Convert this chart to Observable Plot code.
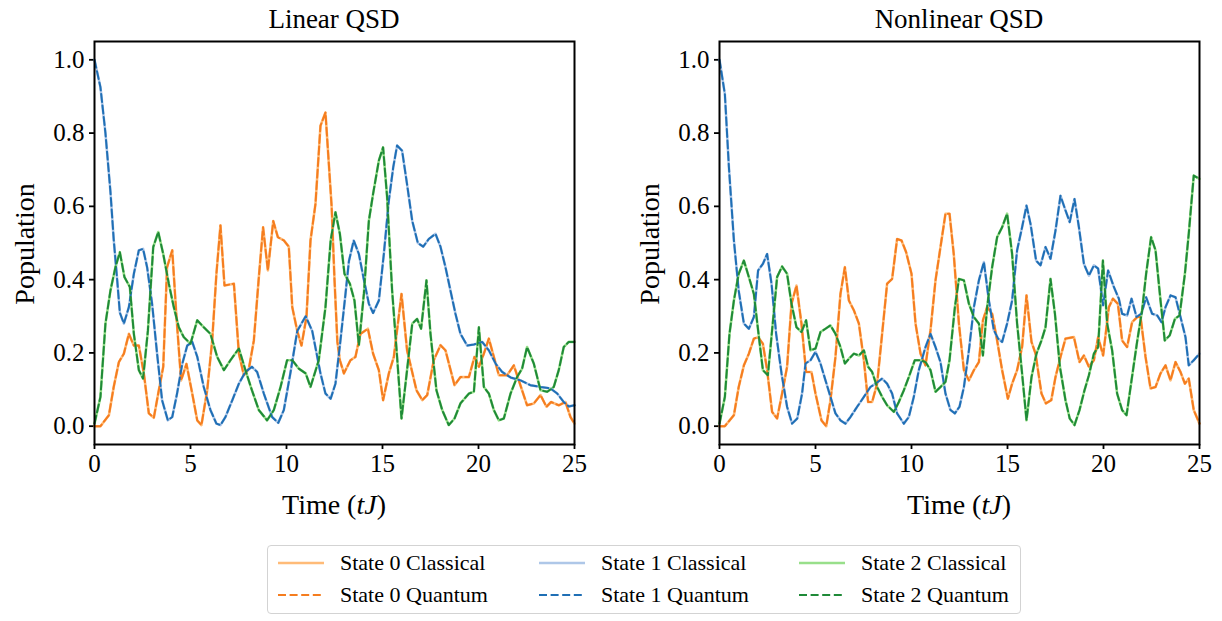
<!DOCTYPE html>
<html><head><meta charset="utf-8">
<script src="https://cdn.jsdelivr.net/npm/d3@7"></script>
<script src="https://cdn.jsdelivr.net/npm/@observablehq/plot@0.6"></script>
<style>
body{margin:0;background:#fff;}
#wrap{position:relative;width:1222px;height:621px;font-family:"Liberation Serif",serif;color:#000;overflow:hidden;}
.abs{position:absolute;white-space:nowrap;}
.title{font-size:27px;line-height:30px;text-align:center;width:480px;}
.ylab{font-size:28px;line-height:30px;transform:translate(-50%,-50%) rotate(-90deg);}
.xlab{font-size:28px;line-height:30px;transform:translate(-50%,-50%);}
#legend{position:absolute;left:267px;top:545px;width:754px;height:69px;border:1px solid #d3d3d3;border-radius:4px;box-sizing:border-box;}
.lg{position:absolute;font-size:22px;line-height:26px;white-space:nowrap;}
svg text{font-family:"Liberation Serif",serif !important;}
</style>
</head><body>
<div id="wrap">
  <div id="p0" class="abs" style="left:0;top:0"></div>
  <div id="p1" class="abs" style="left:625px;top:0"></div>
  <div class="abs title" style="left:94px;top:4px">Linear QSD</div>
  <div class="abs title" style="left:719px;top:4px">Nonlinear QSD</div>
  <div class="abs ylab" style="left:25px;top:244px">Population</div>
  <div class="abs ylab" style="left:650px;top:244px">Population</div>
  <div class="abs xlab" style="left:334px;top:505px">Time (<i>tJ</i>)</div>
  <div class="abs xlab" style="left:959px;top:505px">Time (<i>tJ</i>)</div>
  <div id="legend"></div>
</div>
<script>
// ---- data: [time, population] ----
const xTicks = [0, 5, 10, 15, 20, 25];
const yTicks = [0, 0.2, 0.4, 0.6, 0.8, 1.0];
const stateNames = ["State 0", "State 1", "State 2"];
const panelTitles = ["Linear QSD", "Nonlinear QSD"];

const linS0 = [[0,0],[0.31,0],[0.75,0.03],[1.0,0.107],[1.27,0.175],[1.53,0.198],[1.79,0.252],[2.05,0.22],[2.31,0.22],[2.57,0.144],[2.83,0.035],[3.09,0.023],[3.35,0.098],[3.58,0.162],[3.78,0.434],[4.05,0.48],[4.27,0.298],[4.51,0.125],[4.79,0.17],[5.09,0.089],[5.35,0.016],[5.57,0.003],[5.87,0.098],[6.13,0.234],[6.35,0.416],[6.56,0.548],[6.77,0.384],[7.26,0.389],[7.52,0.198],[7.78,0.139],[8.04,0.157],[8.3,0.234],[8.56,0.407],[8.78,0.543],[9.03,0.425],[9.31,0.56],[9.55,0.516],[9.86,0.507],[10.12,0.49],[10.3,0.325],[10.56,0.26],[10.78,0.22],[11.04,0.298],[11.25,0.507],[11.51,0.607],[11.77,0.82],[12.03,0.856],[12.2,0.72],[12.35,0.6],[12.5,0.4],[12.65,0.23],[12.78,0.18],[12.99,0.144],[13.33,0.18],[13.59,0.189],[13.85,0.252],[14.24,0.266],[14.51,0.198],[14.81,0.153],[15.03,0.071],[15.33,0.144],[15.59,0.189],[15.99,0.361],[16.28,0.207],[16.77,0.098],[17.07,0.071],[17.33,0.085],[17.67,0.18],[18.02,0.221],[18.28,0.207],[18.75,0.112],[19.06,0.134],[19.5,0.134],[19.79,0.189],[20.02,0.162],[20.28,0.198],[20.54,0.239],[20.8,0.189],[21.06,0.139],[21.49,0.139],[21.84,0.166],[22.27,0.098],[22.53,0.057],[22.88,0.062],[23.23,0.085],[23.54,0.053],[23.78,0.066],[24.18,0.057],[24.53,0.066],[24.79,0.025],[25,0.007]];
const linS1 = [[0,1.0],[0.31,0.925],[0.57,0.80],[0.83,0.64],[1.0,0.51],[1.18,0.40],[1.32,0.31],[1.53,0.28],[1.79,0.325],[2.05,0.416],[2.31,0.48],[2.53,0.484],[2.74,0.434],[3.0,0.334],[3.26,0.198],[3.52,0.071],[3.82,0.016],[4.05,0.025],[4.3,0.089],[4.57,0.17],[4.83,0.22],[5.09,0.23],[5.35,0.19],[5.69,0.107],[6.04,0.044],[6.35,0.007],[6.56,0.003],[6.82,0.025],[7.17,0.07],[7.52,0.116],[7.86,0.148],[8.2,0.162],[8.47,0.148],[8.82,0.089],[9.25,0.025],[9.57,0.009],[9.86,0.044],[10.2,0.144],[10.56,0.26],[11.0,0.30],[11.34,0.26],[11.77,0.144],[12.03,0.089],[12.3,0.075],[12.55,0.116],[12.81,0.234],[13.07,0.36],[13.25,0.45],[13.5,0.507],[13.77,0.47],[14.03,0.40],[14.29,0.334],[14.51,0.309],[14.81,0.343],[15.07,0.47],[15.33,0.616],[15.56,0.707],[15.76,0.766],[16.02,0.752],[16.28,0.66],[16.55,0.56],[16.84,0.50],[17.12,0.49],[17.41,0.511],[17.76,0.525],[18.02,0.49],[18.28,0.434],[18.54,0.37],[18.8,0.307],[19.06,0.252],[19.41,0.22],[19.76,0.223],[20.19,0.23],[20.54,0.207],[20.9,0.17],[21.23,0.148],[21.67,0.133],[22.19,0.125],[22.7,0.112],[23.23,0.107],[23.75,0.103],[24.1,0.089],[24.44,0.066],[24.7,0.054],[25,0.057]];
const linS2 = [[0,0.007],[0.31,0.08],[0.57,0.28],[0.83,0.37],[1.09,0.434],[1.32,0.475],[1.56,0.407],[1.84,0.38],[2.05,0.252],[2.31,0.153],[2.53,0.13],[2.78,0.26],[3.06,0.489],[3.32,0.53],[3.58,0.47],[3.87,0.389],[4.13,0.325],[4.39,0.27],[4.65,0.243],[5.0,0.225],[5.35,0.289],[5.69,0.27],[6.04,0.252],[6.39,0.189],[6.74,0.153],[7.08,0.18],[7.52,0.212],[7.86,0.153],[8.2,0.098],[8.56,0.044],[8.99,0.016],[9.34,0.044],[9.69,0.107],[10.03,0.18],[10.3,0.18],[10.64,0.157],[11.0,0.144],[11.25,0.107],[11.68,0.18],[12.03,0.325],[12.3,0.507],[12.55,0.584],[12.78,0.525],[13.02,0.416],[13.3,0.389],[13.54,0.343],[13.77,0.221],[14.03,0.361],[14.29,0.561],[14.51,0.634],[14.81,0.725],[15.03,0.761],[15.24,0.625],[15.5,0.371],[15.76,0.189],[15.99,0.021],[16.26,0.144],[16.55,0.28],[16.8,0.293],[17.01,0.266],[17.29,0.398],[17.5,0.252],[17.81,0.098],[18.11,0.044],[18.45,0.003],[18.75,0.021],[19.06,0.062],[19.5,0.089],[19.76,0.094],[20.02,0.27],[20.28,0.107],[20.54,0.089],[20.8,0.044],[21.06,0.016],[21.32,0.021],[21.67,0.089],[22.01,0.134],[22.27,0.157],[22.53,0.216],[22.88,0.171],[23.23,0.098],[23.58,0.094],[23.92,0.107],[24.18,0.153],[24.44,0.216],[24.7,0.23],[25,0.23]];

const nonS0 = [[0,0],[0.28,0],[0.75,0.03],[1.0,0.107],[1.27,0.166],[1.53,0.198],[1.79,0.239],[2.01,0.243],[2.26,0.225],[2.48,0.153],[2.74,0.039],[3.0,0.021],[3.26,0.089],[3.52,0.162],[3.75,0.334],[4.01,0.384],[4.27,0.28],[4.51,0.148],[4.79,0.148],[5.0,0.089],[5.31,0.016],[5.56,0.0],[5.78,0.071],[6.04,0.189],[6.3,0.361],[6.53,0.434],[6.74,0.343],[7.0,0.316],[7.26,0.28],[7.52,0.18],[7.74,0.066],[7.95,0.066],[8.21,0.116],[8.47,0.252],[8.73,0.389],[8.99,0.402],[9.25,0.511],[9.48,0.507],[9.72,0.475],[10.0,0.416],[10.21,0.28],[10.47,0.198],[10.73,0.166],[10.99,0.262],[11.25,0.398],[11.51,0.489],[11.77,0.58],[11.98,0.58],[12.2,0.47],[12.47,0.28],[12.73,0.153],[12.99,0.125],[13.25,0.153],[13.51,0.175],[13.72,0.289],[13.94,0.325],[14.2,0.307],[14.46,0.234],[14.72,0.153],[15.02,0.075],[15.24,0.116],[15.5,0.153],[15.76,0.216],[15.99,0.357],[16.25,0.23],[16.46,0.198],[16.77,0.089],[17.0,0.062],[17.28,0.071],[17.5,0.134],[17.76,0.189],[18.02,0.239],[18.46,0.243],[18.75,0.175],[18.98,0.193],[19.24,0.162],[19.5,0.18],[19.72,0.243],[19.98,0.193],[20.28,0.325],[20.49,0.348],[20.75,0.334],[20.97,0.234],[21.23,0.216],[21.49,0.284],[21.76,0.298],[21.93,0.298],[22.19,0.189],[22.45,0.103],[22.71,0.107],[22.97,0.144],[23.23,0.166],[23.49,0.125],[23.75,0.175],[24.01,0.148],[24.24,0.116],[24.44,0.13],[24.7,0.044],[25,0.007]];
const nonS1 = [[0,1.0],[0.28,0.906],[0.49,0.707],[0.75,0.507],[1.0,0.37],[1.27,0.28],[1.53,0.266],[1.79,0.298],[2.01,0.425],[2.26,0.443],[2.48,0.47],[2.71,0.389],[2.95,0.252],[3.23,0.144],[3.52,0.053],[3.78,0.007],[4.05,0.021],[4.3,0.089],[4.48,0.171],[4.74,0.18],[5.0,0.203],[5.26,0.171],[5.52,0.125],[5.78,0.08],[6.04,0.035],[6.3,0.016],[6.56,0.007],[6.82,0.025],[7.17,0.053],[7.52,0.08],[7.86,0.107],[8.13,0.116],[8.47,0.13],[8.73,0.116],[8.99,0.089],[9.25,0.035],[9.6,0.007],[9.86,0.025],[10.12,0.08],[10.38,0.153],[10.73,0.216],[10.99,0.252],[11.25,0.216],[11.51,0.175],[11.77,0.089],[12.03,0.044],[12.26,0.035],[12.5,0.053],[12.73,0.107],[12.99,0.207],[13.25,0.325],[13.51,0.398],[13.77,0.448],[14.03,0.343],[14.29,0.262],[14.51,0.239],[14.72,0.23],[14.98,0.28],[15.24,0.343],[15.5,0.48],[15.76,0.543],[15.99,0.602],[16.2,0.552],[16.49,0.452],[16.72,0.439],[16.98,0.489],[17.24,0.457],[17.5,0.534],[17.76,0.629],[18.02,0.589],[18.24,0.557],[18.49,0.62],[18.72,0.543],[18.98,0.443],[19.24,0.411],[19.5,0.439],[19.72,0.43],[19.98,0.33],[20.24,0.425],[20.54,0.38],[20.8,0.348],[20.97,0.307],[21.23,0.302],[21.46,0.348],[21.72,0.298],[21.98,0.307],[22.22,0.352],[22.53,0.307],[22.8,0.302],[23.02,0.284],[23.23,0.325],[23.49,0.357],[23.75,0.352],[24.01,0.298],[24.27,0.243],[24.44,0.166],[24.7,0.18],[25,0.198]];
const nonS2 = [[0,0.007],[0.28,0.08],[0.52,0.252],[0.75,0.343],[1.0,0.416],[1.27,0.452],[1.53,0.407],[1.79,0.361],[2.01,0.262],[2.26,0.153],[2.52,0.139],[2.74,0.262],[3.0,0.407],[3.26,0.436],[3.52,0.416],[3.75,0.334],[4.01,0.27],[4.27,0.257],[4.51,0.289],[4.74,0.207],[5.0,0.212],[5.26,0.257],[5.52,0.266],[5.78,0.275],[6.04,0.252],[6.3,0.216],[6.53,0.171],[6.74,0.184],[7.0,0.198],[7.26,0.193],[7.52,0.207],[7.74,0.162],[7.95,0.148],[8.21,0.107],[8.47,0.08],[8.73,0.057],[9.08,0.039],[9.34,0.066],[9.6,0.098],[9.86,0.134],[10.17,0.18],[10.47,0.18],[10.73,0.175],[10.99,0.153],[11.25,0.094],[11.51,0.107],[11.77,0.121],[11.98,0.18],[12.26,0.325],[12.47,0.402],[12.73,0.398],[12.99,0.334],[13.25,0.298],[13.51,0.28],[13.72,0.193],[13.94,0.325],[14.2,0.434],[14.46,0.516],[14.72,0.543],[14.98,0.58],[15.24,0.47],[15.5,0.28],[15.76,0.144],[15.99,0.016],[16.25,0.134],[16.51,0.198],[16.77,0.234],[16.98,0.27],[17.24,0.402],[17.47,0.307],[17.73,0.162],[18.02,0.071],[18.24,0.021],[18.49,0.003],[18.75,0.044],[19.01,0.098],[19.24,0.139],[19.5,0.198],[19.72,0.216],[19.97,0.452],[20.19,0.28],[20.45,0.207],[20.71,0.089],[20.97,0.044],[21.2,0.03],[21.46,0.125],[21.76,0.234],[22.01,0.316],[22.22,0.416],[22.48,0.516],[22.71,0.48],[22.97,0.343],[23.19,0.234],[23.45,0.248],[23.72,0.293],[23.96,0.302],[24.24,0.416],[24.44,0.525],[24.7,0.684],[25,0.675]];

// ---- styles ----
const classicalColors = ["#ffbb78", "#aec7e8", "#98df8a"];
const quantumColors = ["#f57d1f", "#1f6fb5", "#1f8a38"];
const dash = "8,3.6";
const serif = "'Liberation Serif', serif";

function panel(series) {
  const marks = [];
  series.forEach((s, i) => {
    const data = s.map(([t, v]) => ({t, v}));
    marks.push(Plot.line(data, {x: "t", y: "v", stroke: classicalColors[i], strokeWidth: 2.6}));
  });
  series.forEach((s, i) => {
    const data = s.map(([t, v]) => ({t, v}));
    marks.push(Plot.line(data, {x: "t", y: "v", stroke: quantumColors[i], strokeWidth: 2, strokeDasharray: dash}));
  });
  return Plot.plot({
    width: 594, height: 490,
    marginLeft: 94, marginRight: 20, marginTop: 41, marginBottom: 46,
    style: {fontFamily: serif, fontSize: "25px", background: "transparent", color: "#000"},
    x: {domain: [0, 25]},
    y: {domain: [-0.05, 1.05]},
    marks: [
      Plot.axisX({ticks: xTicks, tickSize: 5, tickPadding: 5, fontSize: 25, fontFamily: serif, label: null, strokeWidth: 1.8}),
      Plot.axisY({ticks: yTicks, tickSize: 5, tickPadding: 5, fontSize: 25, fontFamily: serif, label: null, strokeWidth: 1.8, tickFormat: d => d.toFixed(1)}),
      ...marks,
      Plot.frame({stroke: "#000", strokeWidth: 2})
    ]
  });
}

document.getElementById("p0").appendChild(panel([linS0, linS1, linS2]));
document.getElementById("p1").appendChild(panel([nonS0, nonS1, nonS2]));

// ---- legend ----
const legend = document.getElementById("legend");
const cols = [{line: 10, text: 72}, {line: 271, text: 333}, {line: 531, text: 593}];
const rows = [17, 49];
stateNames.forEach((name, i) => {
  [["Classical", classicalColors[i], null, 2.6], ["Quantum", quantumColors[i], dash, 2]].forEach(([kind, color, da, w], r) => {
    const svg = document.createElementNS("http://www.w3.org/2000/svg", "svg");
    svg.setAttribute("width", 46); svg.setAttribute("height", 8);
    svg.style.position = "absolute";
    svg.style.left = cols[i].line + "px";
    svg.style.top = (rows[r] - 4) + "px";
    const ln = document.createElementNS("http://www.w3.org/2000/svg", "line");
    ln.setAttribute("x1", 0); ln.setAttribute("x2", 46); ln.setAttribute("y1", 4); ln.setAttribute("y2", 4);
    ln.setAttribute("stroke", color); ln.setAttribute("stroke-width", w);
    if (da) ln.setAttribute("stroke-dasharray", da);
    svg.appendChild(ln);
    legend.appendChild(svg);
    const tx = document.createElement("div");
    tx.className = "lg";
    tx.style.left = cols[i].text + "px";
    tx.style.top = (rows[r] - 13) + "px";
    tx.textContent = name + " " + kind;
    legend.appendChild(tx);
  });
});
</script>
</body></html>
